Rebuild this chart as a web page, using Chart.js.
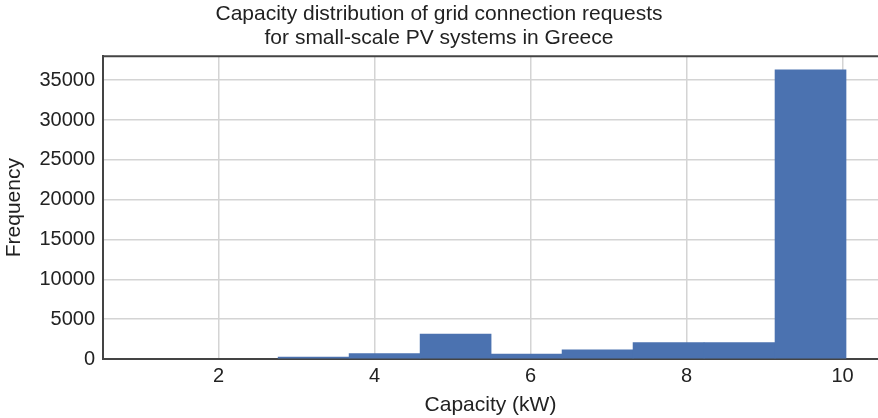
<!DOCTYPE html>
<html>
<head>
<meta charset="utf-8">
<script src="https://cdn.jsdelivr.net/npm/chart.js@4"></script>
<style>
  body { margin: 0; background: #fff; overflow: hidden; }
  canvas { display: block; }
</style>
</head>
<body>
<canvas id="chart" width="878" height="418"></canvas>
<script>
// histogram bins (centres in kW) and how many requests fell in each
const binCenters = [3.22, 4.13, 5.04, 5.95, 6.86, 7.77, 8.68, 9.59];
const frequencies = [250, 680, 3120, 620, 1140, 2050, 2050, 36300];
const xTicks = [2, 4, 6, 8, 10];
const yTicks = [0, 5000, 10000, 15000, 20000, 25000, 30000, 35000];

const font = "'Liberation Sans', Arial, Helvetica, sans-serif";
const ctx = document.getElementById("chart");

// draw the dark line along the top of the plot
const topBorder = {
  id: "topBorder",
  afterDraw(chart) {
    const a = chart.chartArea;
    const c = chart.ctx;
    c.save();
    c.strokeStyle = "#444";
    c.lineWidth = 2;
    c.beginPath();
    c.moveTo(a.left, a.top);
    c.lineTo(a.right, a.top);
    c.stroke();
    c.restore();
  },
};

let points = [];
for (let i = 0; i < binCenters.length; i++) {
  points.push({ x: binCenters[i], y: frequencies[i] });
}

new Chart(ctx, {
  type: "bar",
  data: {
    datasets: [
      {
        label: "Frequency",
        data: points,
        backgroundColor: "rgb(75, 114, 176)",
        borderWidth: 0,
        barPercentage: 1,
        categoryPercentage: 1,
      },
    ],
  },
  plugins: [topBorder],
  options: {
    responsive: false,
    animation: false,
    layout: { padding: { left: 0, right: 0, top: 0, bottom: 0 } },
    plugins: {
      legend: { display: false },
      tooltip: { enabled: false },
      title: {
        display: true,
        text: [
          "Capacity distribution of grid connection requests",
          "for small-scale PV systems in Greece",
        ],
        color: "#222",
        font: { family: font, size: 21, weight: "normal", lineHeight: 1.15 },
        padding: { top: 2, bottom: 6 },
      },
    },
    scales: {
      x: {
        type: "linear",
        offset: false,
        min: 0.52,
        max: 10.455,
        afterBuildTicks: (s) => { s.ticks = xTicks.map((v) => ({ value: v })); },
        afterFit: (s) => { s.height = 59; },
        grid: { color: "#d4d4d4", lineWidth: 1.5, drawTicks: false, offset: false },
        border: { color: "#444", width: 2 },
        ticks: { color: "#222", padding: 5, font: { family: font, size: 20 } },
        title: {
          display: true,
          text: "Capacity (kW)",
          color: "#222",
          font: { family: font, size: 21 },
          padding: { top: 0, bottom: 0 },
        },
      },
      y: {
        min: 0,
        max: 38000,
        afterBuildTicks: (s) => { s.ticks = yTicks.map((v) => ({ value: v })); },
        afterFit: (s) => { s.width = 103; },
        grid: { color: "#d4d4d4", lineWidth: 1.5, drawTicks: false },
        border: { color: "#444", width: 2 },
        ticks: {
          color: "#222",
          padding: 8,
          font: { family: font, size: 20 },
          callback: (v) => String(v),
        },
        title: {
          display: true,
          text: "Frequency",
          color: "#222",
          font: { family: font, size: 21 },
          padding: { top: 2, bottom: 0 },
        },
      },
    },
  },
});
</script>
</body>
</html>
